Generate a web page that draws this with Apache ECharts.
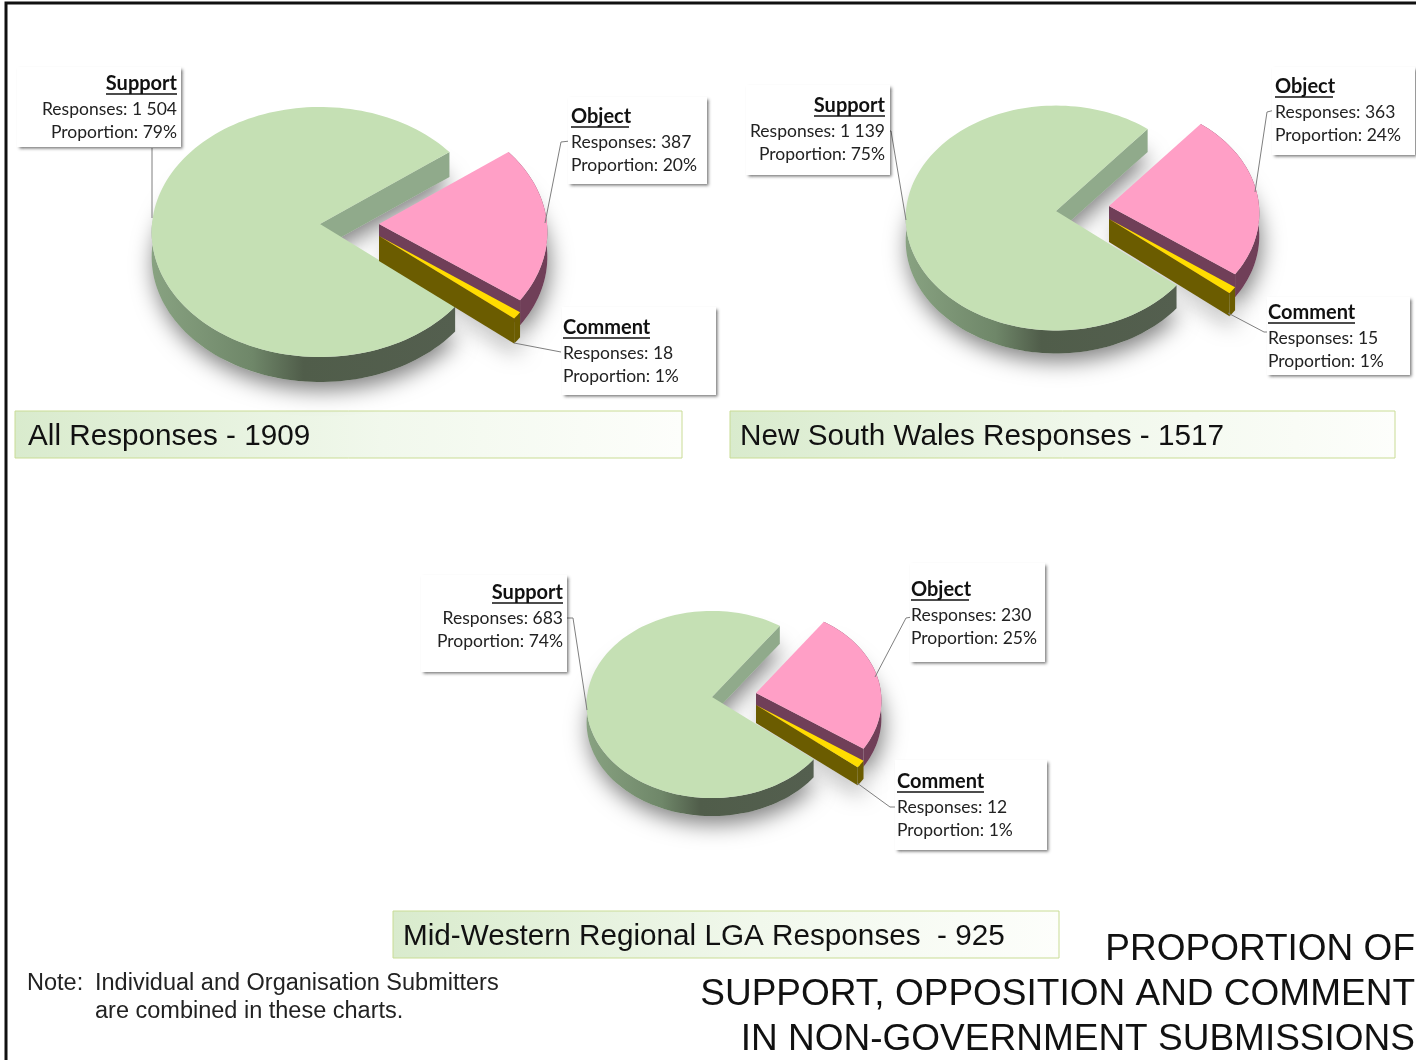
<!DOCTYPE html>
<html>
<head>
<meta charset="utf-8">
<title>Proportion of support, opposition and comment</title>
<style>
  html, body { margin: 0; padding: 0; background: #fff; }
  #main { width: 1416px; height: 1060px; }
</style>
<script src="https://cdn.jsdelivr.net/npm/echarts@6/dist/echarts.min.js"></script>
</head>
<body>
<div id="main"></div>
<script>
// data
const categories = ['Support', 'Object', 'Comment'];
const allResponses = [1504, 387, 18];
const nswResponses = [1139, 363, 15];
const lgaResponses = [683, 230, 12];
const allProportion = ['79%', '20%', '1%'];
const nswProportion = ['75%', '24%', '1%'];
const lgaProportion = ['74%', '25%', '1%'];
const responseLabels = [
  ['1 504', '387', '18'],
  ['1 139', '363', '15'],
  ['683', '230', '12']
];
const pieTitles = ['All Responses - 1909', 'New South Wales Responses - 1517', 'Mid-Western Regional LGA Responses  - 925'];
const noteLines = ['Note:', 'Individual and Organisation Submitters', 'are combined in these charts.'];
const mainTitle = ['PROPORTION OF', 'SUPPORT, OPPOSITION AND COMMENT', 'IN NON-GOVERNMENT SUBMISSIONS'];

const pieValues = [allResponses, nswResponses, lgaResponses];
const pieProportions = [allProportion, nswProportion, lgaProportion];

// layout: ax/ay = apex, rx/ry = radii, k = perspective, h = wall height
// off = apex offset of each slice, box/text = callouts, lead = leader lines
const layouts = [
  {
    ax: 320, ay: 224, rx: 168, ry: 124.5, k: 0.064, h: 25,
    off: [[0, 0], [59, 0], [59, 12]],
    box: [[17, 67, 164, 80], [568, 97, 139, 87], [562, 307, 154, 88]],
    text: [[177, 84], [571, 117], [563, 328]],
    lead: [
      [[152, 148], [152, 218]],
      [[545, 223], [561, 142], [570, 141]],
      [[514, 343], [561, 352]]
    ],
    bar: [15, 411, 667, 47], barText: 28
  },
  {
    ax: 1056, ay: 211, rx: 150, ry: 112, k: 0.0625, h: 23,
    off: [[0, 0], [53, -5], [53, 8]],
    box: [[746, 85, 144, 90], [1272, 67, 143, 88], [1267, 297, 143, 78]],
    text: [[885, 106], [1275, 87], [1268, 313]],
    lead: [
      [[888, 131], [891, 131], [906, 220]],
      [[1255, 192], [1267, 112], [1275, 110]],
      [[1228, 313], [1264, 332], [1268, 332]]
    ],
    bar: [730, 411, 665, 47], barText: 740
  },
  {
    ax: 712, ay: 697, rx: 125, ry: 93, k: 0.08, h: 18,
    off: [[0, 0], [44, -4], [44, 8]],
    box: [[421, 575, 146, 97], [910, 563, 135, 99], [895, 760, 152, 90]],
    text: [[563, 593], [911, 590], [897, 782]],
    lead: [
      [[566, 618], [573, 618], [587, 710]],
      [[875, 677], [906, 618], [912, 617]],
      [[857, 783], [890, 807], [896, 807]]
    ],
    bar: [393, 911, 666, 47], barText: 403
  }
];

const topColors = ['#c5e0b4', '#ff9fc6', '#ffdd00'];
const wallColors = ['#90aa8b', '#703f58', '#6b5c00'];
const headingWidth = { Support: 71, Object: 58, Comment: 87 };
const gapEnd = 39.5; // where the Support slice starts, degrees clockwise from east
const labelFont = 'Lato';
const titleFont = '"Liberation Sans", Arial, sans-serif';

function project(l, deg, off) {
  const t = deg * Math.PI / 180;
  const w = 1 - l.k * Math.sin(t);
  return [
    l.ax + off[0] + l.rx * Math.cos(t) / w,
    l.ay + off[1] + l.ry * Math.sin(t) / w
  ];
}

function arcPoints(l, from, to, off) {
  const pts = [];
  const n = Math.max(2, Math.ceil(Math.abs(to - from) / 2));
  for (let i = 0; i <= n; i++) {
    pts.push(project(l, from + (to - from) * i / n, off));
  }
  return pts;
}

function sliceAngles(values, idx) {
  const total = values.reduce((a, b) => a + b, 0);
  let from = gapEnd;
  for (let i = 0; i < idx; i++) from += values[i] / total * 360;
  return [from, from + values[idx] / total * 360];
}

function shift(pts, dy) {
  return pts.map(p => [p[0], p[1] + dy]);
}

// soft shadow under each pie, drawn before any slice
function renderShadow(pieIdx, params) {
  const l = layouts[pieIdx];
  const idx = params.dataIndex;
  const ang = sliceAngles(pieValues[pieIdx], idx);
  const off = l.off[idx];
  const apex = [l.ax + off[0], l.ay + off[1]];
  const pts = [apex].concat(arcPoints(l, ang[0], ang[1], off));
  return {
    type: 'polygon',
    shape: { points: shift(pts, l.h) },
    style: {
      fill: '#d8d8d8',
      shadowColor: 'rgba(0,0,0,0.5)',
      shadowBlur: 22,
      shadowOffsetY: 8,
      shadowOffsetX: 2
    }
  };
}

function renderSlice(pieIdx, params, api) {
  const l = layouts[pieIdx];
  const idx = params.dataIndex;
  const ang = sliceAngles(pieValues[pieIdx], idx);
  const off = l.off[idx];
  const apex = [l.ax + off[0], l.ay + off[1]];
  const children = [];
  const arc = arcPoints(l, ang[0], ang[1], off);
  const wall = pts => ({
    type: 'polygon',
    shape: { points: pts.concat(shift(pts, l.h).reverse()) },
    style: { fill: wallColors[idx] }
  });

  if (idx === 0) {
    // the cut wall at the far end of the big slice shows through the gap
    const end = project(l, ang[1], off);
    children.push(wall([apex, end]));
    const front = arcPoints(l, ang[0], 182, off);
    const outer = wall(front);
    const x0 = l.ax - l.rx;
    const x1 = front[0][0];
    outer.style = {
      fill: {
        type: 'linear', global: true, x: x0, y: 0, x2: x1, y2: 0,
        colorStops: [
          { offset: 0, color: '#88a281' },
          { offset: 0.33, color: '#6f8769' },
          { offset: 0.5, color: '#505d4a' },
          { offset: 1, color: '#545f4f' }
        ]
      }
    };
    children.push(outer);
  } else {
    // front edge and rim of the pulled out slices
    const last = project(l, ang[1], off);
    children.push(wall([apex, last]));
    children.push(wall(arc));
  }

  children.push({
    type: 'polygon',
    shape: { points: [apex].concat(arc) },
    style: { fill: topColors[idx] }
  });
  return { type: 'group', children: children };
}

function renderLabel(pieIdx, params) {
  const l = layouts[pieIdx];
  const idx = params.dataIndex;
  const box = l.box[idx];
  const txt = l.text[idx];
  const rightAlign = idx === 0;
  const name = categories[idx];
  const lines = [
    'Responses: ' + responseLabels[pieIdx][idx],
    'Proportion: ' + pieProportions[pieIdx][idx]
  ];
  const children = [{
    type: 'polyline',
    shape: { points: l.lead[idx] },
    style: { fill: null, stroke: '#7f7f7f', lineWidth: 1 }
  }, {
    type: 'rect',
    shape: { x: box[0], y: box[1], width: box[2], height: box[3] },
    style: {
      fill: '#fff',
      shadowColor: 'rgba(0,0,0,0.55)',
      shadowBlur: 3,
      shadowOffsetX: 1.5,
      shadowOffsetY: 1.5
    }
  }, {
    type: 'text',
    x: txt[0], y: txt[1],
    style: {
      text: name, x: 0, y: 0, fill: '#111',
      fontFamily: labelFont, fontSize: 20, fontWeight: 'bold',
      align: rightAlign ? 'right' : 'left', verticalAlign: 'middle'
    }
  }];
  const uw = headingWidth[name];
  const ux = rightAlign ? txt[0] - uw : txt[0];
  children.push({
    type: 'line',
    shape: { x1: ux, y1: txt[1] + 10, x2: ux + uw, y2: txt[1] + 10 },
    style: { stroke: '#111', lineWidth: 1.5 }
  });
  lines.forEach((s, i) => {
    children.push({
      type: 'text',
      x: txt[0], y: txt[1] + 25 + i * 23,
      style: {
        text: s, x: 0, y: 0, fill: '#222',
        fontFamily: labelFont, fontSize: 17.5,
        align: rightAlign ? 'right' : 'left', verticalAlign: 'middle'
      }
    });
  });
  return { type: 'group', children: children };
}

const series = [];
pieValues.forEach((values, p) => {
  const data = values.map((v, i) => ({ name: categories[i], value: v }));
  series.push({ type: 'custom', coordinateSystem: 'none', silent: true, z: 1, animation: false, clip: false, data: data, renderItem: params => renderShadow(p, params) });
  series.push({ type: 'custom', coordinateSystem: 'none', silent: true, z: 2, animation: false, clip: false, data: data, renderItem: (params, api) => renderSlice(p, params, api) });
  series.push({ type: 'custom', coordinateSystem: 'none', silent: true, z: 3, animation: false, clip: false, data: data, renderItem: params => renderLabel(p, params) });
});

const graphics = [{
  type: 'polyline',
  shape: { points: [[6, 1060], [6, 3], [1416, 3]] },
  style: { fill: null, stroke: '#111', lineWidth: 3 }
}];
layouts.forEach((l, i) => {
  graphics.push({
    type: 'rect',
    shape: { x: l.bar[0], y: l.bar[1], width: l.bar[2], height: l.bar[3] },
    style: {
      fill: {
        type: 'linear', x: 0, y: 0, x2: 1, y2: 0,
        colorStops: [
          { offset: 0, color: '#d9ebcd' },
          { offset: 0.55, color: '#f1f8ec' },
          { offset: 1, color: '#fdfefb' }
        ]
      },
      stroke: '#c9dc95', lineWidth: 1
    }
  });
  graphics.push({
    type: 'text', x: l.barText, y: l.bar[1] + 26,
    style: { text: pieTitles[i], fontFamily: titleFont, fontSize: 29.7, fill: '#111', verticalAlign: 'middle' }
  });
});
graphics.push({ type: 'text', x: 27, y: 984, style: { text: noteLines[0], fontFamily: titleFont, fontSize: 23.5, fill: '#222', verticalAlign: 'middle' } });
graphics.push({ type: 'text', x: 95, y: 984, style: { text: noteLines[1], fontFamily: titleFont, fontSize: 23.5, fill: '#222', verticalAlign: 'middle' } });
graphics.push({ type: 'text', x: 95, y: 1012, style: { text: noteLines[2], fontFamily: titleFont, fontSize: 23.5, fill: '#222', verticalAlign: 'middle' } });
mainTitle.forEach((s, i) => {
  graphics.push({
    type: 'text', x: 1415, y: 950 + i * 45,
    style: { text: s, fontFamily: titleFont, fontSize: 37, fill: '#111', align: 'right', verticalAlign: 'middle' }
  });
});

const chart = echarts.init(document.getElementById('main'), null, { renderer: 'canvas' });
chart.setOption({
  animation: false,
  backgroundColor: '#fff',
  graphic: { elements: graphics },
  series: series
});
</script>
</body>
</html>
